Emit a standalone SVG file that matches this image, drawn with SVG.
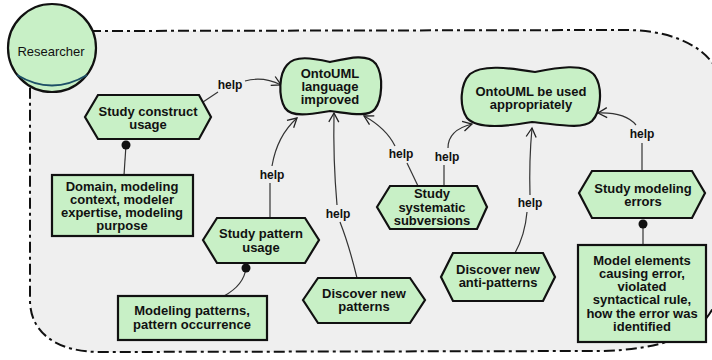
<svg xmlns="http://www.w3.org/2000/svg" width="712" height="360" viewBox="0 0 712 360">
<defs>
<marker id="arr" markerWidth="12" markerHeight="12" refX="10" refY="6" orient="auto" markerUnits="userSpaceOnUse">
<path d="M1,1 L10,6 L1,11" fill="none" stroke="#222" stroke-width="1.3"/>
</marker>
<style>
.n{fill:#c8f0c6;stroke:#111;stroke-width:2.2}
.t{font-family:"Liberation Sans",Arial,sans-serif;font-size:13px;font-weight:bold;fill:#111;text-anchor:middle}
.h{font-family:"Liberation Sans",Arial,sans-serif;font-size:12px;font-weight:bold;fill:#111;text-anchor:middle}
.c{fill:none;stroke:#333;stroke-width:1.2}
.a{fill:none;stroke:#333;stroke-width:1.2;marker-end:url(#arr)}
</style>
</defs>
<rect width="712" height="360" fill="#ffffff"/>
<g id="boundary">
<path d="M85,33 L90,31 L625,30 C665,30 700,42 716,68 L716,300 C706,335 660,350 600,351 L100,352 C60,352 30,335 30,300 L30,85 Z" fill="#efefef"/>
<path d="M90,31 L625,30 C665,30 700,42 716,68 L716,300 C706,335 660,350 600,351 L100,352 C60,352 30,335 30,300 L30,85" fill="none" stroke="#111" stroke-width="2" stroke-dasharray="11,4,3,4"/>
</g>
<g id="researcher">
<circle cx="52" cy="48" r="44" class="n"/>
<path d="M17,75 Q52,96 87,75" fill="none" stroke="#1d4f66" stroke-width="2"/>
<text x="51" y="56" font-family="Liberation Sans,Arial,sans-serif" font-size="13" fill="#111" text-anchor="middle">Researcher</text>
</g>
<g id="connectors">
<path class="c" d="M203,102 L218,92"/>
<path class="a" d="M245,81 Q263,76 281,85"/>
<path class="c" d="M270,218 L270,183"/>
<path class="a" d="M272,166 Q277,136 297,118"/>
<path class="c" d="M357,278 Q349,245 340,222"/>
<path class="a" d="M337,205 Q333,160 334,113"/>
<path class="c" d="M418,186 L407,163"/>
<path class="a" d="M395,146 Q386,128 364,116"/>
<path class="c" d="M444,186 L444,165"/>
<path class="a" d="M448,148 C448,136 456,128 472,124"/>
<path class="c" d="M515,253 Q525,235 527,212"/>
<path class="a" d="M530,195 Q529,160 532,128"/>
<path class="c" d="M642,171 L642,143"/>
<path class="a" d="M636,125 Q625,112 598,113"/>
<path class="c" d="M126,145 L124,175"/>
<circle cx="126" cy="145" r="4.5" fill="#111"/>
<path class="c" d="M246,268 Q244,285 224,296"/>
<circle cx="246" cy="268" r="4.5" fill="#111"/>
<path class="c" d="M643,224 L643,245"/>
<circle cx="643" cy="224" r="4.5" fill="#111"/>
<text class="h" x="230" y="89">help</text>
<text class="h" x="272" y="179">help</text>
<text class="h" x="338" y="218">help</text>
<text class="h" x="401" y="158">help</text>
<text class="h" x="447" y="161">help</text>
<text class="h" x="530" y="207">help</text>
<text class="h" x="642" y="138">help</text>
</g>
<g id="goal-language">
<path class="n" d="M287,65 C295,55 312,58 330,62 C348,58 368,53 376,64 C384,76 382,100 375,109 C368,118 348,113 330,111 C312,114 292,118 285,108 C278,96 279,74 287,65 Z"/>
<text class="t" x="330" y="78">OntoUML</text>
<text class="t" x="330" y="91">language</text>
<text class="t" x="330" y="104">improved</text>
</g>
<g id="goal-appropriate">
<path class="n" d="M470,74 C482,64 510,68 535,72 C555,68 585,62 595,76 C603,88 601,112 592,121 C582,130 556,124 532,122 C508,126 478,130 467,118 C459,106 460,84 470,74 Z"/>
<text class="t" x="531" y="96">OntoUML be used</text>
<text class="t" x="531" y="109">appropriately</text>
</g>
<g id="task-construct">
<polygon class="n" points="85,117 98,95 199,95 211,117 199,139 98,139"/>
<text class="t" x="148" y="116">Study construct</text>
<text class="t" x="148" y="129">usage</text>
</g>
<g id="res-construct">
<rect class="n" x="52" y="175" width="141" height="61"/>
<text class="t" x="122" y="191">Domain, modeling</text>
<text class="t" x="122" y="204">context, modeler</text>
<text class="t" x="122" y="217">expertise, modeling</text>
<text class="t" x="122" y="230">purpose</text>
</g>
<g id="task-pattern">
<polygon class="n" points="203,240 217,218 305,218 319,240 305,263 217,263"/>
<text class="t" x="261" y="238">Study pattern</text>
<text class="t" x="261" y="252">usage</text>
</g>
<g id="res-pattern">
<rect class="n" x="118" y="296" width="149" height="44"/>
<text class="t" x="192" y="315">Modeling patterns,</text>
<text class="t" x="192" y="329">pattern occurrence</text>
</g>
<g id="task-discover-patterns">
<polygon class="n" points="303,300 318,278 410,278 425,300 410,323 318,323"/>
<text class="t" x="364" y="298">Discover new</text>
<text class="t" x="364" y="311">patterns</text>
</g>
<g id="task-subversions">
<polygon class="n" points="377,207 390,186 477,186 487,207 477,229 390,229"/>
<text class="t" x="432" y="198">Study</text>
<text class="t" x="432" y="212">systematic</text>
<text class="t" x="432" y="225">subversions</text>
</g>
<g id="task-antipatterns">
<polygon class="n" points="441,277 453,253 543,253 555,277 543,301 453,301"/>
<text class="t" x="498" y="274">Discover new</text>
<text class="t" x="498" y="287">anti-patterns</text>
</g>
<g id="task-errors">
<polygon class="n" points="579,193 592,171 692,171 705,193 692,218 592,218"/>
<text class="t" x="643" y="193">Study modeling</text>
<text class="t" x="643" y="206">errors</text>
</g>
<g id="res-errors">
<rect class="n" x="578" y="245" width="128" height="97"/>
<text class="t" x="642" y="265">Model elements</text>
<text class="t" x="642" y="278">causing error,</text>
<text class="t" x="642" y="291">violated</text>
<text class="t" x="642" y="304">syntactical rule,</text>
<text class="t" x="642" y="318">how the error was</text>
<text class="t" x="642" y="331">identified</text>
</g>
</svg>
